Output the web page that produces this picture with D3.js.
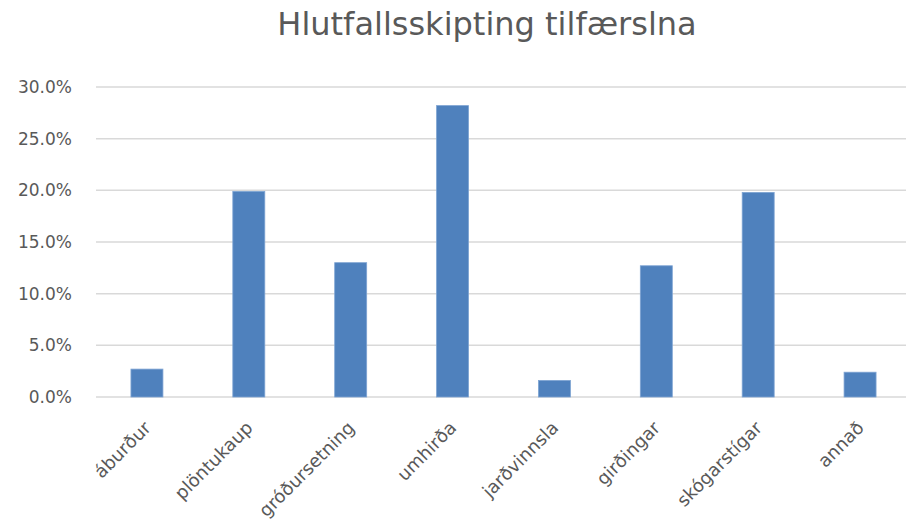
<!DOCTYPE html>
<html>
<head>
<meta charset="utf-8">
<script src="https://cdn.jsdelivr.net/npm/d3@7"></script>
<style>
  html, body { margin: 0; padding: 0; background: #fff; }
  svg { display: block; }
</style>
</head>
<body>
<div id="chart"></div>
<script>
// Hlutfallsskipting tilfærslna - column chart

const categories = ["áburður", "plöntukaup", "gróðursetning", "umhirða", "jarðvinnsla", "girðingar", "skógarstígar", "annað"];
const shares = [0.027, 0.199, 0.130, 0.282, 0.016, 0.127, 0.198, 0.024];
const yTicks = [0, 0.05, 0.10, 0.15, 0.20, 0.25, 0.30];
const title = "Hlutfallsskipting tilfærslna";

const width = 906;
const height = 526;
const font = "'DejaVu Sans', sans-serif";
const textColor = "#595959";

const svg = d3.select("#chart")
  .append("svg")
  .attr("width", width)
  .attr("height", height)
  .style("background", "#fff");

const x = d3.scaleBand()
  .domain(categories)
  .range([96, 911])
  .paddingInner(0.686)
  .paddingOuter(0.343);

const y = d3.scaleLinear()
  .domain([0, 0.30])
  .range([397, 87]);

// Gridlines
svg.append("g")
  .selectAll("line")
  .data(yTicks)
  .join("line")
  .attr("x1", 96)
  .attr("x2", width)
  .attr("y1", d => y(d))
  .attr("y2", d => y(d))
  .attr("stroke", "#d9d9d9")
  .attr("stroke-width", 1.5);

// Y axis labels
svg.append("g")
  .selectAll("text")
  .data(yTicks)
  .join("text")
  .attr("x", 72)
  .attr("y", d => y(d))
  .attr("dy", "0.36em")
  .attr("text-anchor", "end")
  .attr("font-family", font)
  .attr("font-size", 17)
  .attr("fill", textColor)
  .text(d => d3.format(".1%")(d));

// Bars
svg.append("g")
  .selectAll("rect")
  .data(shares)
  .join("rect")
  .attr("x", (d, i) => x(categories[i]))
  .attr("y", d => y(d))
  .attr("width", x.bandwidth())
  .attr("height", d => y(0) - y(d))
  .attr("fill", "#4f81bd")
  .attr("stroke", "#7ea4d3")
  .attr("stroke-width", 0.8);

// X axis labels, rotated
svg.append("g")
  .selectAll("text")
  .data(categories)
  .join("text")
  .attr("transform", d => `translate(${x(d) + x.bandwidth() / 2 + 5}, 429) rotate(-45)`)
  .attr("text-anchor", "end")
  .attr("font-family", font)
  .attr("font-size", 18)
  .attr("fill", textColor)
  .text(d => d);

// Title
svg.append("text")
  .attr("x", 487)
  .attr("y", 35)
  .attr("text-anchor", "middle")
  .attr("font-family", font)
  .attr("font-size", 32)
  .attr("fill", textColor)
  .text(title);
</script>
</body>
</html>
